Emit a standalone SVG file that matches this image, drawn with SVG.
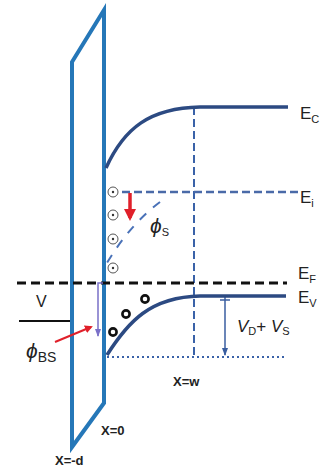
<svg xmlns="http://www.w3.org/2000/svg" width="326" height="470" viewBox="0 0 326 470">
<style>
.lbl{font-family:"Liberation Sans",Arial,sans-serif;fill:#222;}
.e{font-size:17px;}
.sub{font-size:11px;}
.x{font-size:13px;font-weight:bold;fill:#222;font-family:"Liberation Sans",Arial,sans-serif;}
.ion{fill:#fff;stroke:#555;stroke-width:1;}
.hole{fill:#fff;stroke:#111;stroke-width:2.6;}
.band{fill:none;stroke:#2c4a82;stroke-width:3.5;}
</style>
<defs>
<marker id="red" markerWidth="8" markerHeight="8" refX="6" refY="4" orient="auto" markerUnits="userSpaceOnUse"><path d="M0,0 L8,4 L0,8 z" fill="#e0202a"/></marker>
<marker id="redBig" markerWidth="12" markerHeight="12" refX="9" refY="6" orient="auto" markerUnits="userSpaceOnUse"><path d="M0,0 L12,6 L0,12 z" fill="#e0202a"/></marker>
<marker id="blu" markerWidth="8" markerHeight="8" refX="7" refY="4" orient="auto" markerUnits="userSpaceOnUse"><path d="M0,1 L8,4 L0,7 z" fill="#3a5ea0"/></marker>
<marker id="pur" markerWidth="8" markerHeight="8" refX="7" refY="4" orient="auto" markerUnits="userSpaceOnUse"><path d="M0,1 L8,4 L0,7 z" fill="#7a70c8"/></marker>
</defs>
<rect width="326" height="470" fill="#fff"/>
<g id="oxide">
<polygon points="72,62 104,10 104,403 72,447" fill="none" stroke="#2577b8" stroke-width="4" stroke-linejoin="miter"/>
</g>
<g id="connectors">
<line x1="194" y1="107" x2="194" y2="357" stroke="#3a62a8" stroke-width="2" stroke-dasharray="8,4"/>
<line x1="122" y1="192" x2="298" y2="192" stroke="#4a6aa8" stroke-width="2.5" stroke-dasharray="8,4"/>
<path d="M160,202 Q128,226 104,268" fill="none" stroke="#4a72b8" stroke-width="2" stroke-dasharray="9,9"/>
<line x1="17" y1="283" x2="287" y2="283" stroke="#111" stroke-width="3" stroke-dasharray="9,5"/>
<line x1="107" y1="357" x2="286" y2="357" stroke="#3a62a8" stroke-width="2" stroke-dasharray="2,3"/>
<line x1="19" y1="321" x2="70" y2="321" stroke="#111" stroke-width="2"/>
<line x1="130" y1="193" x2="130" y2="218" stroke="#e0202a" stroke-width="3.5" marker-end="url(#redBig)"/>
<line x1="55" y1="342" x2="91" y2="327" stroke="#e0202a" stroke-width="2" marker-end="url(#red)"/>
<polyline points="103,283 98,283 98,336" fill="none" stroke="#7a70c8" stroke-width="1.5" marker-end="url(#pur)"/>
<line x1="220" y1="300" x2="230" y2="300" stroke="#3a5ea0" stroke-width="1.5"/>
<line x1="225" y1="297" x2="225" y2="355" stroke="#3a5ea0" stroke-width="1.5" marker-end="url(#blu)"/>
</g>
<g id="EC">
<path class="band" d="M106,168 C124,128 150,108 200,107 L288,107"/>
<text class="lbl e" x="300" y="119">E<tspan class="sub" dy="4">C</tspan></text>
</g>
<g id="Ei">
<text class="lbl e" x="300" y="203">E<tspan class="sub" dy="4">i</tspan></text>
</g>
<g id="EF">
<text class="lbl e" x="298" y="279">E<tspan class="sub" dy="4">F</tspan></text>
</g>
<g id="EV">
<path class="band" d="M107,355 C128,322 150,297 200,296 L286,296"/>
<text class="lbl e" x="298" y="303">E<tspan class="sub" dy="4">V</tspan></text>
</g>
<g id="ions">
<circle class="ion" cx="113" cy="192" r="5"/><circle cx="113" cy="192" r="1.2" fill="#333"/>
<circle class="ion" cx="113" cy="215" r="5"/><circle cx="113" cy="215" r="1.2" fill="#333"/>
<circle class="ion" cx="113" cy="239" r="5"/><circle cx="113" cy="239" r="1.2" fill="#333"/>
<circle class="ion" cx="113" cy="268" r="5"/><circle cx="113" cy="268" r="1.2" fill="#333"/>
</g>
<g id="holes">
<circle class="hole" cx="113" cy="332" r="3.6"/>
<circle class="hole" cx="126" cy="314" r="3.6"/>
<circle class="hole" cx="145" cy="299" r="3.6"/>
</g>
<g id="labels">
<text class="lbl" x="150" y="233" font-size="21" font-style="italic">ϕ<tspan class="sub" font-size="13" font-style="normal" dy="3">S</tspan></text>
<text class="lbl" x="36" y="307" font-size="16">V</text>
<text class="lbl" x="26" y="358" font-size="21" font-style="italic">ϕ<tspan font-size="14" font-style="normal" dy="4">BS</tspan></text>
<text class="lbl" x="237" y="332" font-size="17" font-style="italic">V<tspan font-size="11" font-style="normal" dy="3">D</tspan><tspan dy="-3" font-style="normal">+ </tspan>V<tspan font-size="11" font-style="normal" dy="3">S</tspan></text>
<text class="x" x="173" y="386">X=w</text>
<text class="x" x="101" y="435">X=0</text>
<text class="x" x="55" y="465">X=-d</text>
</g>
</svg>
